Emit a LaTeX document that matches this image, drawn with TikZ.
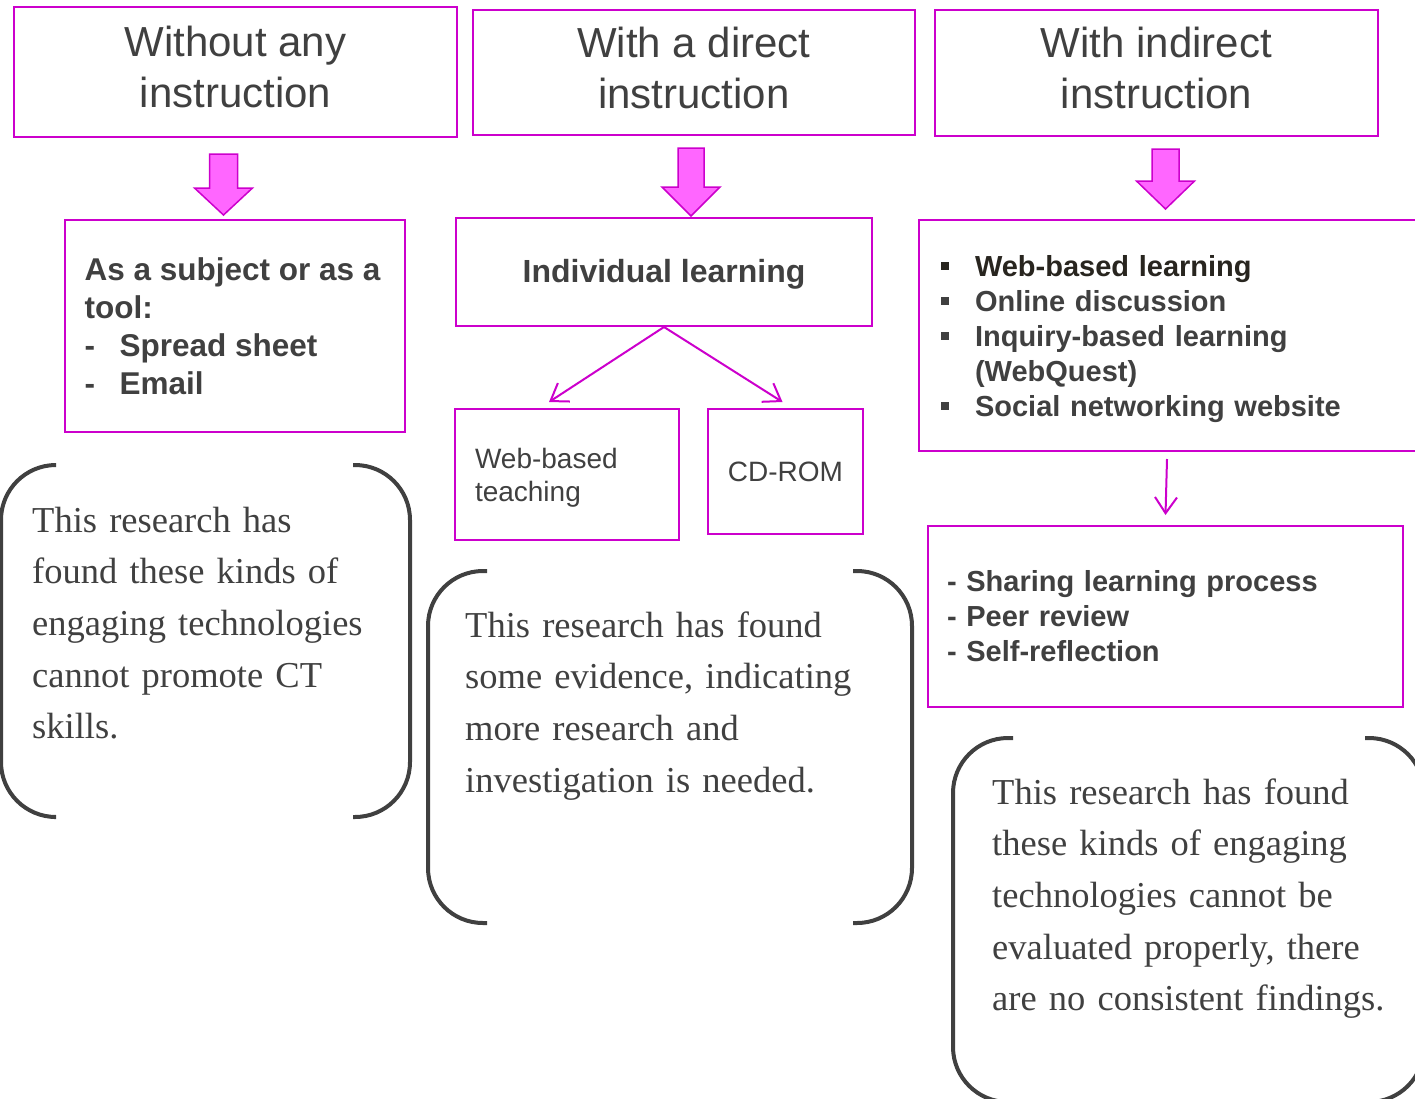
\documentclass[tikz,border=0pt]{standalone}
\usepackage{fontspec}
\setmainfont{Liberation Serif}
\newfontfamily\arialfont{Liberation Sans}
\usetikzlibrary{arrows.meta,calc}
\definecolor{mag}{HTML}{CC00CC}
\definecolor{magfill}{HTML}{FF66FF}
\definecolor{txt}{HTML}{404040}
\definecolor{txtdark}{HTML}{28251F}
\newcommand{\sqbullet}{\makebox[34pt][l]{\raisebox{7pt}{\rule{7.5pt}{7.5pt}}}}
\newcommand{\dashitem}{\makebox[35pt][l]{-}}
\newcommand{\twolines}[2]{\raisebox{-3.5pt}{\begin{tabular}{@{}c@{}}#1\\#2\end{tabular}}}
\begin{document}
\begin{tikzpicture}[x=1pt,y=-1pt,
  box/.style={draw=mag, line width=2pt, rectangle, inner sep=0pt, text=txt,
    font=\arialfont, anchor=north west},
  titlebox/.style={box, font=\arialfont\fontsize{42}{51}\selectfont},
  blockarrow/.style={draw=mag, fill=magfill, line width=1.5pt, line join=miter},
  thinarrow/.style={draw=mag, line width=2pt, -{Straight Barb[length=16pt,width=22pt,line width=2pt]}},
  bracket/.style={draw=txt, line width=4pt, rounded corners=55pt},
  note/.style={text=txt, align=left, inner sep=0pt, anchor=base west,
    font=\fontsize{36.5}{51.7}\selectfont}
]
\useasboundingbox (0,0) rectangle (1415,1098);

% top row
\node[titlebox, minimum width=443, minimum height=130] (t1) at (13,6) {\twolines{Without any}{instruction}};
\node[titlebox, minimum width=442, minimum height=125] (t2) at (472,9) {\twolines{With a direct}{instruction}};
\node[titlebox, minimum width=443, minimum height=126] (t3) at (934,9) {\twolines{With indirect}{instruction}};

% second row
\node[box, minimum width=340, minimum height=212, align=left,
  font=\arialfont\bfseries\fontsize{31.5}{38}\selectfont] (b1) at (64,219)
  {As a subject or as a\hspace*{5pt}\\tool:\\\dashitem Spread sheet\\\dashitem Email};
\node[box, minimum width=416, minimum height=108,
  font=\arialfont\bfseries\fontsize{32}{38}\selectfont] (b2) at (455,217) {\rule{0pt}{27pt}Individual learning};
\node[box, minimum width=520, minimum height=231, text width=476, inner xsep=22pt, align=left,
  font=\arialfont\bfseries\fontsize{29}{35}\selectfont] (b3) at (918,219)
  {{\color{txtdark}\rule{0pt}{29pt}\sqbullet Web-based learning}\\
   \sqbullet Online discussion\\
   \sqbullet Inquiry-based learning\\
   \hspace*{34pt}(WebQuest)\\
   \sqbullet Social networking website};

% third row
\node[box, minimum width=224, minimum height=131, text width=184, inner xsep=20pt, align=left,
  font=\arialfont\fontsize{28}{33}\selectfont] (c1) at (454,408) {\rule{0pt}{26pt}Web-based\\teaching};
\node[box, minimum width=155, minimum height=125,
  font=\arialfont\fontsize{28}{33}\selectfont] (c2) at (707,408) {CD-ROM};
\node[box, minimum width=475, minimum height=181, text width=437, inner xsep=18pt, align=left,
  font=\arialfont\bfseries\fontsize{29}{35}\selectfont] (d3) at (927,525)
  {- Sharing learning process\\- Peer review\\- Self-reflection};

% block arrows
\draw[blockarrow, shift={($(t1.south)+(-12,16)$)}]
  (-14,0) -- (14,0) -- (14,34) -- (29,34) -- (0,61) -- (-29,34) -- (-14,34) -- cycle;
\draw[blockarrow, shift={($(t2.south)+(-3,12)$)}]
  (-13,0) -- (13,0) -- (13,39) -- (29,39) -- (0,68) -- (-29,39) -- (-13,39) -- cycle;
\draw[blockarrow, shift={($(t3.south)+(9,12)$)}]
  (-13.5,0) -- (13.5,0) -- (13.5,32) -- (29,32) -- (0,60) -- (-29,32) -- (-13.5,32) -- cycle;

% thin arrows
\draw[thinarrow] (b2.south) -- ($(c1.north)+(-18,-6)$);
\draw[thinarrow] (b2.south) -- ($(c2.north)+(-3,-6)$);
\draw[thinarrow] ($(b3.south west)+(249,7)$) -- ($(d3.north)+(0,-10)$);

% bracket pairs
\draw[bracket] (54,465) -- (1,465) -- (1,817) -- (54,817);
\draw[bracket] (353,465) -- (410,465) -- (410,817) -- (353,817);
\draw[bracket] (487,571) -- (428,571) -- (428,923) -- (487,923);
\draw[bracket] (853,571) -- (912,571) -- (912,923) -- (853,923);
\draw[bracket] (1013,738) -- (953,738) -- (953,1102) -- (1013,1102);
\draw[bracket] (1365,738) -- (1424,738) -- (1424,1102) -- (1365,1102);

% notes
\node[note, text width=360] (n1) at (32,532)
  {This research has\\found these kinds of\\engaging technologies\\cannot promote CT\\skills.};
\node[note, text width=420] (n2) at (465,637)
  {This research has found\\some evidence, indicating\\more research and\\investigation is needed.};
\node[note, text width=420] (n3) at (992,804)
  {This research has found\\these kinds of engaging\\technologies cannot be\\evaluated properly, there\\are no consistent findings.};
\end{tikzpicture}
\end{document}
